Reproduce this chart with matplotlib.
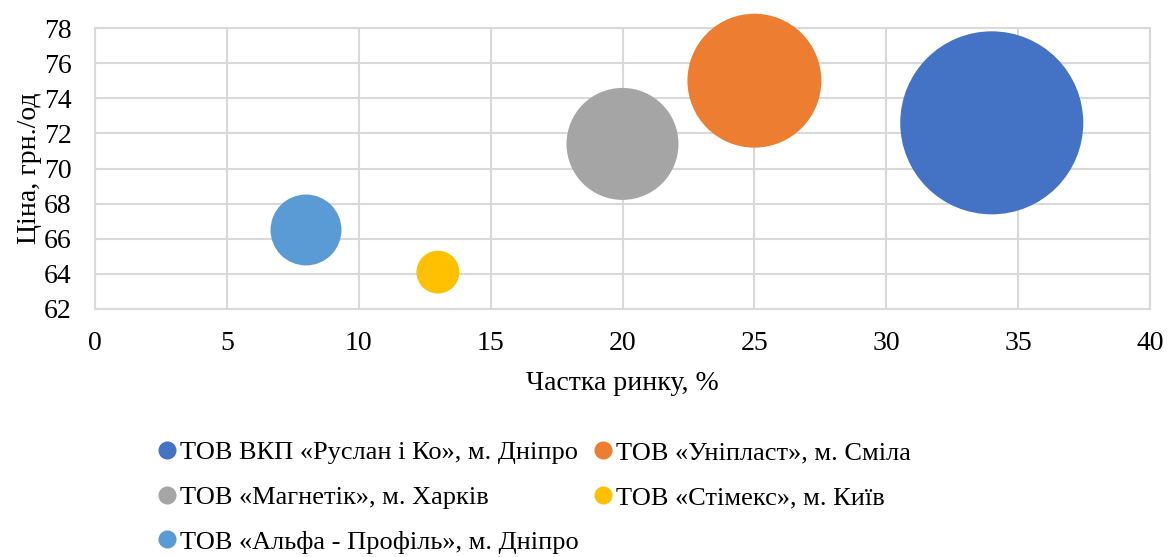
import matplotlib
matplotlib.use("Agg")
import matplotlib.pyplot as plt
from matplotlib.lines import Line2D

plt.rcParams['font.family'] = ['Liberation Serif', 'DejaVu Serif']

companies = [
    "ТОВ ВКП «Руслан і Ко», м. Дніпро",
    "ТОВ «Уніпласт», м. Сміла",
    "ТОВ «Магнетік», м. Харків",
    "ТОВ «Стімекс», м. Київ",
    "ТОВ «Альфа - Профіль», м. Дніпро",
]
market_share = [34, 25, 20, 13, 8]
price = [72.6, 75.0, 71.4, 64.1, 66.5]
bubble_size = [8390, 4490, 3140, 460, 1260]
colors = ["#4472C4", "#ED7D31", "#A5A5A5", "#FFC000", "#5B9BD5"]

x_ticks = [0, 5, 10, 15, 20, 25, 30, 35, 40]
y_ticks = [62, 64, 66, 68, 70, 72, 74, 76, 78]

fig = plt.figure(figsize=(11.76, 5.57), dpi=100)
ax = fig.add_axes([95/1176, 1 - 309/557, (1150-95)/1176, (309-28)/557])

scale = 2.07
for xv, yv, sv, c in zip(market_share, price, bubble_size, colors):
    ax.scatter([xv], [yv], s=sv*scale, color=c, edgecolors='none', zorder=3, clip_on=False)

ax.set_xlim(0, 40)
ax.set_ylim(62, 78)
ax.set_xticks(x_ticks)
ax.set_yticks(y_ticks)
ax.grid(True, color="#D9D9D9", linewidth=1.5, zorder=0)
ax.set_axisbelow(True)
for s in ax.spines.values():
    s.set_color("#D9D9D9")
    s.set_linewidth(1.5)
ax.tick_params(axis='both', length=0, labelsize=20, colors='black')
ax.tick_params(axis='x', pad=16)
ax.tick_params(axis='y', pad=17)

ax.set_xlabel("Частка ринку, %", fontsize=20, labelpad=11)
ax.set_ylabel("Ціна, грн./од", fontsize=20, labelpad=1)

handles = [Line2D([0], [0], marker='o', linestyle='none', markersize=13,
                  markerfacecolor=c, markeredgecolor='none') for c in colors]
order = [0, 2, 4, 1, 3]
fig.legend([handles[i] for i in order], [companies[i] for i in order],
           ncol=2, loc='upper left', bbox_to_anchor=(154/1176, 1 - 441/557),
           frameon=False, fontsize=19, handletextpad=0.0, columnspacing=0.4,
           labelspacing=0.8, handlelength=1.0, borderaxespad=0, borderpad=0)

fig.savefig("out.png", dpi=100)
